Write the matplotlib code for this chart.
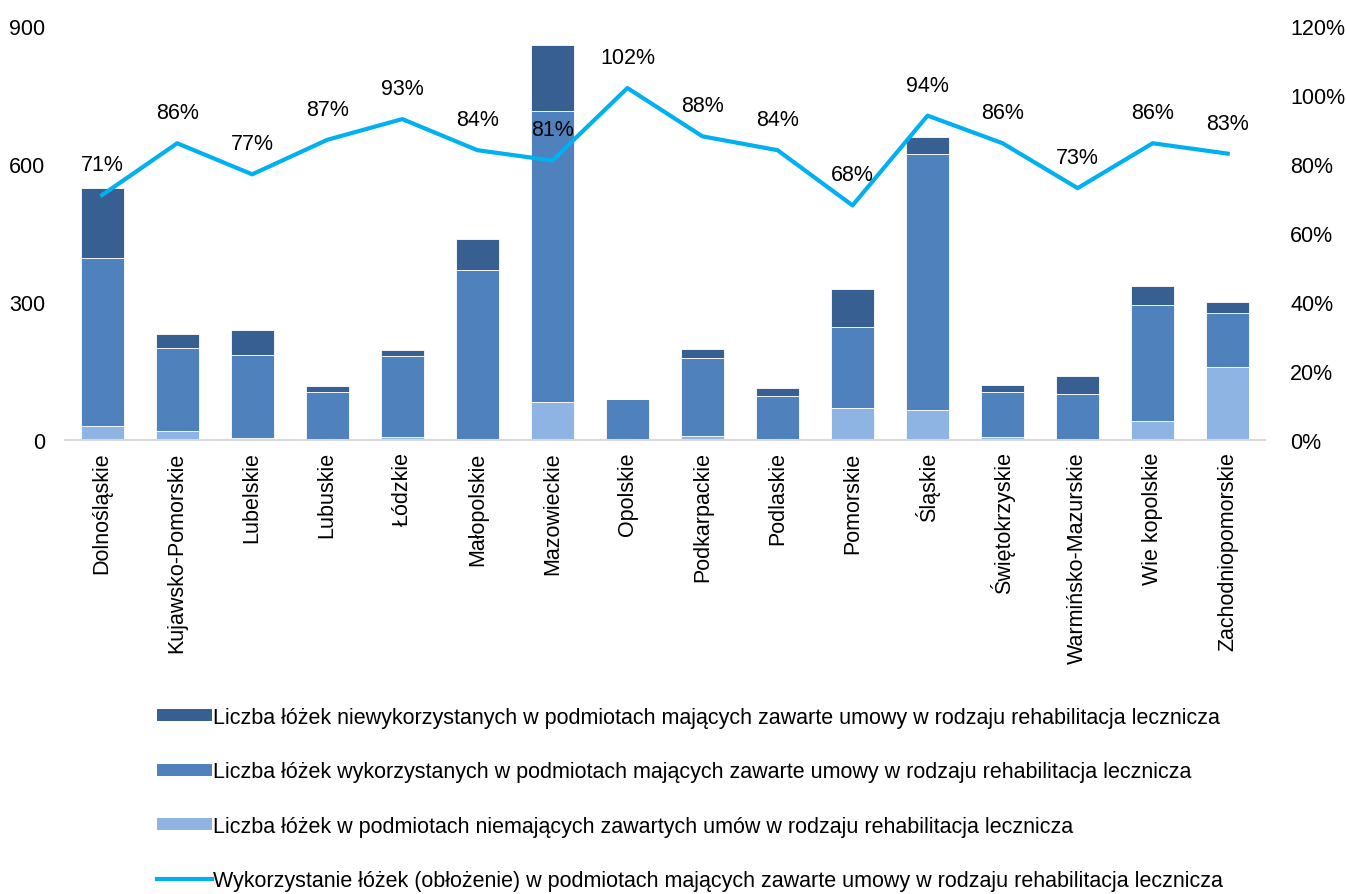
import numpy as np
import matplotlib
matplotlib.use('Agg')
import matplotlib.pyplot as plt
from matplotlib.patches import Patch
from matplotlib.lines import Line2D
from matplotlib.ticker import FuncFormatter

plt.rcParams['font.family'] = ['Liberation Sans', 'DejaVu Sans']

regiony = ['Dolnośląskie', 'Kujawsko-Pomorskie', 'Lubelskie', 'Lubuskie', 'Łódzkie',
           'Małopolskie', 'Mazowieckie', 'Opolskie', 'Podkarpackie', 'Podlaskie',
           'Pomorskie', 'Śląskie', 'Świętokrzyskie', 'Warmińsko-Mazurskie',
           'Wie kopolskie', 'Zachodniopomorskie']

# lozka w podmiotach bez umow
bez_umow = [32, 19, 4, 1, 7, 0, 84, 0, 10, 1, 69, 65, 8, 0, 41, 160]
# lozka wykorzystane
wykorzystane = [363, 182, 181, 103, 177, 369, 630, 90, 168, 94, 178, 556, 97, 101, 252, 117]
# lozka niewykorzystane
niewykorzystane = [152, 30, 54, 14, 13, 69, 144, 0, 21, 19, 81, 37, 15, 39, 43, 24]
# oblozenie [%]
oblozenie = [71, 86, 77, 87, 93, 84, 81, 102, 88, 84, 68, 94, 86, 73, 86, 83]

lab_nie = 'Liczba łóżek niewykorzystanych w podmiotach mających zawarte umowy w rodzaju rehabilitacja lecznicza'
lab_wyk = 'Liczba łóżek wykorzystanych w podmiotach mających zawarte umowy w rodzaju rehabilitacja lecznicza'
lab_bez = 'Liczba łóżek w podmiotach niemających zawartych umów w rodzaju rehabilitacja lecznicza'
lab_obl = 'Wykorzystanie łóżek (obłożenie) w podmiotach mających zawarte umowy w rodzaju rehabilitacja lecznicza'

c_dark = '#375F92'
c_mid = '#4F81BD'
c_light = '#8EB4E3'
c_line = '#00B0F0'
fs = 15.5

fig = plt.figure(figsize=(13.46, 8.95), dpi=100)
ax = fig.add_axes([0.048, 0.507, 0.892, 0.463])
x = np.arange(len(regiony))
b1 = np.array(bez_umow)
b2 = b1 + np.array(wykorzystane)
w = 0.57
ax.bar(x, bez_umow, w, color=c_light, edgecolor='white', linewidth=0.6)
ax.bar(x, wykorzystane, w, bottom=b1, color=c_mid, edgecolor='white', linewidth=0.6)
ax.bar(x, niewykorzystane, w, bottom=b2, color=c_dark, edgecolor='white', linewidth=0.6)

ax.set_xlim(-0.5, len(regiony) - 0.5)
ax.set_ylim(0, 900)
ax.set_yticks([0, 300, 600, 900])
ax.set_xticks(x)
ax.set_xticklabels(regiony, rotation=90, fontsize=fs)
ax.tick_params(axis='y', length=0, labelsize=fs, pad=14)
ax.tick_params(axis='x', length=0, pad=8)
for s in ['top', 'right', 'left']:
    ax.spines[s].set_visible(False)
ax.spines['bottom'].set_color('#D9D9D9')
ax.spines['bottom'].set_linewidth(1.5)

ax2 = ax.twinx()
ax2.plot(x, [v / 100 for v in oblozenie], color=c_line, linewidth=3)
ax2.set_ylim(0, 1.2)
ax2.set_yticks(np.arange(0, 1.21, 0.2))
ax2.yaxis.set_major_formatter(FuncFormatter(lambda v, p: '{:.0f}%'.format(v * 100)))
ax2.tick_params(axis='y', length=0, labelsize=fs, pad=18)
for s in ax2.spines.values():
    s.set_visible(False)
for xi, v in zip(x, oblozenie):
    ax2.annotate('{}%'.format(v), (xi, v / 100), xytext=(0, 22), textcoords='offset points',
                 ha='center', va='center', fontsize=fs)

handles = [Patch(facecolor=c_dark), Patch(facecolor=c_mid), Patch(facecolor=c_light),
           Line2D([0], [0], color=c_line, linewidth=3)]
fig.legend(handles, [lab_nie, lab_wyk, lab_bez, lab_obl], loc='upper left',
           bbox_to_anchor=(0.1166, 0.209), frameon=False, fontsize=fs,
           labelspacing=1.55, handlelength=2.55, handleheight=0.5, handletextpad=0.05,
           borderaxespad=0, borderpad=0)

fig.savefig('out.png', dpi=100)
